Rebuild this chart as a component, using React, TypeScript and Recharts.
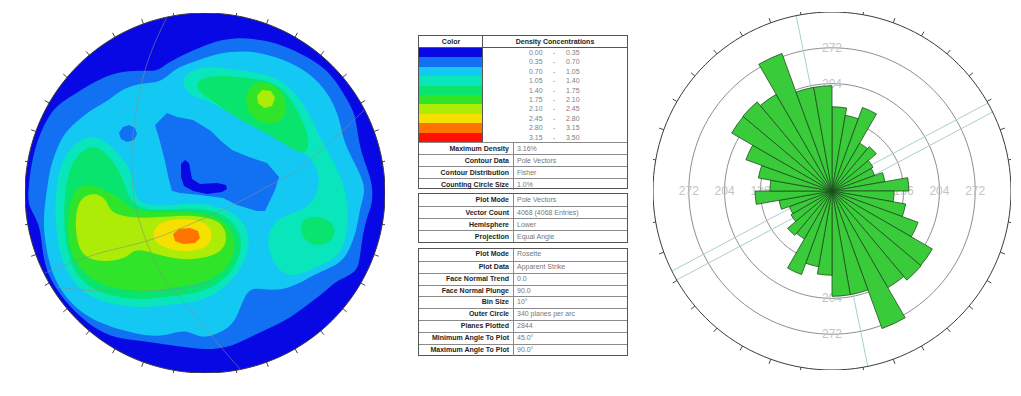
import React from 'react';
import {
  ScatterChart,
  Scatter,
  XAxis,
  YAxis,
  RadialBarChart,
  RadialBar,
  PolarAngleAxis,
  PolarRadiusAxis,
} from 'recharts';

// ---------- density classes (percent of poles per 1% area) ----------
const densityBreaks = ['0.00', '0.35', '0.70', '1.05', '1.40', '1.75', '2.10', '2.45', '2.80', '3.15', '3.50'];
const densityColors = ['#0808e4', '#1270f2', '#14c8f4', '#0ae6bc', '#08e46e', '#30e42a', '#acec06', '#f6e000', '#ff7400', '#ff1000'];

// ---------- contour outlines, stereonet units (primitive radius 180, +y = north) ----------
type Pt = [number, number];

const contourBlueOuter: Pt[] = [
  [-177, 3], [-172, 43], [-155, 83], [-135, 96], [-108, 113], [-88, 121], [-65, 123], [-48, 121], [-38, 130],
  [-18, 140], [5, 150], [28, 156], [62, 153], [82, 146], [105, 135], [122, 123], [135, 106], [148, 83], [151, 73],
  [155, 43], [163, 23], [168, 5], [167, -12], [162, -24], [158, -40], [155, -64], [152, -80], [132, -87], [122, -97],
  [105, -110], [78, -130], [52, -140], [28, -154], [0, -157], [-22, -154], [-48, -150], [-72, -147], [-95, -144],
  [-118, -130], [-135, -114], [-148, -97], [-158, -80], [-163, -57], [-165, -30], [-177, -14],
];

const contourCyanOuter: Pt[] = [
  [-158, 3], [-155, 26], [-145, 53], [-135, 66], [-115, 83], [-95, 93], [-85, 103], [-65, 110], [-48, 110],
  [-38, 116], [-28, 126], [-5, 133], [12, 140], [45, 143], [72, 136], [95, 126], [112, 113], [122, 100], [128, 90],
  [135, 73], [138, 53], [148, 33], [158, 13], [160, 0], [155, -14], [152, -37], [142, -64], [128, -74], [112, -80],
  [95, -90], [78, -97], [62, -97], [45, -94], [38, -107], [32, -124], [25, -134], [10, -142], [-5, -145], [-18, -137],
  [-32, -140], [-48, -144], [-72, -140], [-95, -134], [-118, -124], [-138, -107], [-152, -84], [-158, -60],
  [-162, -34], [-160, -10],
];

const contourAquaNorthEast: Pt[] = [
  [-25, 113], [-13, 123], [5, 127], [30, 123], [57, 120], [77, 113], [92, 98], [105, 78], [115, 55], [128, 33],
  [138, 11], [143, -12], [143, -37], [137, -59], [123, -69], [105, -77], [87, -85], [73, -77], [65, -62], [62, -47],
  [67, -32], [80, -22], [100, -17], [113, -2], [115, 18], [107, 35], [93, 43], [75, 53], [57, 63], [40, 71], [23, 81],
  [3, 93], [-15, 96],
];
const contourGreenNorthEast: Pt[] = [
  [-10, 113], [10, 118], [35, 116], [60, 113], [78, 105], [90, 88], [100, 68], [105, 48], [100, 38], [85, 45],
  [65, 58], [45, 68], [27, 78], [7, 93], [-7, 101],
];
const contourBrightNorthEast: Pt[] = [
  [42, 103], [50, 111], [65, 111], [78, 101], [83, 85], [77, 71], [63, 68], [47, 75], [40, 88],
];
const contourLimeNorthEast: Pt[] = [
  [52, 97], [57, 103], [66, 102], [70, 95], [67, 87], [59, 85], [53, 90],
];
const contourGreenEast: Pt[] = [
  [97, -27], [105, -24], [118, -24], [128, -30], [131, -40], [125, -50], [112, -53], [100, -48], [95, -38],
];

const contourAquaSouthWest: Pt[] = [
  [-150, -7], [-147, 18], [-140, 38], [-127, 53], [-110, 58], [-95, 48], [-83, 35], [-73, 21], [-70, -2], [-63, -12],
  [-40, -13], [-15, -10], [7, -12], [27, -18], [42, -33], [45, -52], [38, -72], [25, -90], [7, -104], [-15, -110],
  [-40, -112], [-65, -115], [-90, -112], [-113, -105], [-130, -92], [-142, -72], [-149, -42],
];
const contourGreenSouthWest: Pt[] = [
  [-141, -7], [-138, 15], [-132, 33], [-120, 45], [-108, 47], [-97, 38], [-87, 25], [-80, 8], [-75, -7], [-65, -16],
  [-40, -17], [-15, -15], [7, -17], [25, -25], [35, -39], [37, -55], [31, -72], [19, -87], [2, -97], [-18, -102],
  [-42, -104], [-65, -107], [-88, -104], [-109, -98], [-125, -87], [-135, -69], [-141, -42],
];
const contourBrightSouthWest: Pt[] = [
  [-137, -22], [-133, -2], [-125, 8], [-110, 8], [-97, 1], [-85, -4], [-75, -17], [-55, -19], [-30, -19], [-5, -19],
  [15, -25], [28, -39], [31, -55], [25, -72], [10, -85], [-10, -92], [-35, -95], [-57, -99], [-80, -97], [-103, -92],
  [-120, -82], [-132, -65], [-137, -45],
];
const contourLimeSouthWest: Pt[] = [
  [-130, -32], [-128, -12], [-120, -2], [-108, 0], [-98, -7], [-95, -19], [-80, -24], [-60, -25], [-40, -24],
  [-20, -22], [0, -24], [17, -29], [23, -45], [17, -59], [0, -65], [-20, -67], [-40, -64], [-60, -57], [-72, -57],
  [-78, -65], [-97, -69], [-117, -67], [-127, -55],
];
const contourYellowPeak: Pt[] = [
  [-53, -39], [-45, -29], [-30, -26], [-10, -26], [5, -32], [8, -44], [2, -55], [-15, -59], [-35, -57], [-50, -50],
];
const contourOrangePeak: Pt[] = [
  [-32, -41], [-26, -36], [-15, -35], [-7, -38], [-5, -45], [-10, -50], [-22, -51], [-30, -48],
];

// low-density pockets inside the cyan zone
const pocketBlueCentre: Pt[] = [
  [-50, 68], [-38, 80], [-28, 76], [-12, 73], [6, 62], [16, 52], [27, 43], [44, 36], [62, 30], [74, 16], [70, 3],
  [60, -18], [52, -18], [32, -12], [18, -5], [-5, -2], [-25, 0], [-33, 2], [-36, 13], [-41, 36], [-46, 55],
];
const pocketDarkCentre: Pt[] = [
  [-24, 29], [-20, 33], [-16, 30], [-13, 14], [-5, 9], [12, 10], [21, 8], [22, 4], [17, 1], [2, -1], [-12, 2],
  [-21, 7], [-24, 16],
];
const pocketBlueWest: Pt[] = [
  [-86, 60], [-82, 66], [-76, 68], [-70, 65], [-68, 59], [-71, 53], [-78, 51], [-84, 54],
];

// painting order: class index + outline
const contourLayers: { level: number; outline: Pt[] }[] = [
  { level: 1, outline: contourBlueOuter },
  { level: 2, outline: contourCyanOuter },
  { level: 3, outline: contourAquaNorthEast },
  { level: 3, outline: contourAquaSouthWest },
  { level: 4, outline: contourGreenNorthEast },
  { level: 4, outline: contourGreenEast },
  { level: 4, outline: contourGreenSouthWest },
  { level: 5, outline: contourBrightNorthEast },
  { level: 5, outline: contourBrightSouthWest },
  { level: 6, outline: contourLimeSouthWest },
  { level: 7, outline: contourYellowPeak },
];
// small or angular patches, painted last
const pocketLayers: { level: number; outline: Pt[] }[] = [
  { level: 6, outline: contourLimeNorthEast },
  { level: 8, outline: contourOrangePeak },
  { level: 1, outline: pocketBlueCentre },
  { level: 0, outline: pocketDarkCentre },
  { level: 1, outline: pocketBlueWest },
];

// faint great-circle traces
const greatCircleA: Pt[] = [
  [-38, 176], [-55, 138], [-67, 93], [-73, 43], [-72, 3], [-65, -30], [-52, -64], [-35, -94], [-12, -120], [10, -147], [35, -176],
];
const greatCircleB: Pt[] = [
  [-160, -80], [-105, -60], [-55, -47], [-5, -27], [28, -12], [75, 13], [105, 33], [152, 76], [158, 82],
];
const greatCircleC: Pt[] = [[-148, -94], [-105, -98], [-38, -97], [5, -89]];
const greatCircles = [greatCircleA, greatCircleB, greatCircleC];

// ---------- rosette: apparent strike, 10 degree bins ----------
const roseBins = ['0', '10', '20', '30', '40', '50', '60', '70', '80', '90', '100', '110', '120', '130', '140', '150', '160', '170',
  '180', '190', '200', '210', '220', '230', '240', '250', '260', '270', '280', '290', '300', '310', '320', '330', '340', '350'];
const roseCounts = [160, 146, 169, 105, 110, 90, 86, 102, 146, 118, 142, 174, 220, 221, 212, 278, 200, 200,
  160, 146, 169, 105, 110, 90, 86, 102, 146, 118, 142, 174, 220, 221, 212, 278, 200, 200];
const roseRings = [68, 136, 204, 272];
const roseOuter = 340;
const roseTraceA: Pt[] = [[-68, 333], [68, -333]];
const roseTraceB: Pt[] = [[-304, -152], [296, 167]];
const roseTraceC: Pt[] = [[-295, -169], [305, 150]];

// ---------- information tables ----------
const contourInfo: [string, string][] = [
  ['Maximum Density', '3.16%'],
  ['Contour Data', 'Pole Vectors'],
  ['Contour Distribution', 'Fisher'],
  ['Counting Circle Size', '1.0%'],
];
const plotInfo: [string, string][] = [
  ['Plot Mode', 'Pole Vectors'],
  ['Vector Count', '4068 (4068 Entries)'],
  ['Hemisphere', 'Lower'],
  ['Projection', 'Equal Angle'],
];
const roseInfo: [string, string][] = [
  ['Plot Mode', 'Rosette'],
  ['Plot Data', 'Apparent Strike'],
  ['Face Normal Trend', '0.0'],
  ['Face Normal Plunge', '90.0'],
  ['Bin Size', '10°'],
  ['Outer Circle', '340 planes per arc'],
  ['Planes Plotted', '2844'],
  ['Minimum Angle To Plot', '45.0°'],
  ['Maximum Angle To Plot', '90.0°'],
];

const tickAzimuths = Array.from({ length: 36 }, (_, i) => i * 10);
const cardinals = [
  { az: 0, label: 'N' },
  { az: 90, label: 'E' },
  { az: 180, label: 'S' },
  { az: 270, label: 'W' },
];

// ---------- helpers ----------
const toPts = (p: Pt[]) => p.map(([x, y]) => ({ x, y }));
const onCircle = (r: number, az: number) => {
  const t = (az * Math.PI) / 180;
  return { x: r * Math.sin(t), y: r * Math.cos(t) };
};
const ring = (r: number, n = 144) => Array.from({ length: n }, (_, i) => onCircle(r, (360 * i) / n));

const NoDot = () => <g />;

const makeTick = (len: number) => (p: any) => {
  const a = (p.payload.az * Math.PI) / 180;
  return (
    <line x1={p.cx} y1={p.cy} x2={p.cx + len * Math.sin(a)} y2={p.cy - len * Math.cos(a)} stroke="#333" strokeWidth={0.9} />
  );
};
// gaps: label distance from the rim for N, E, S, W
const makeCardinal = (len: number, gaps: Record<number, number>) => (p: any) => {
  const a = (p.payload.az * Math.PI) / 180;
  const s = Math.sin(a);
  const c = Math.cos(a);
  const gap = gaps[p.payload.az];
  return (
    <g>
      <line x1={p.cx} y1={p.cy} x2={p.cx + len * s} y2={p.cy - len * c} stroke="#333" strokeWidth={0.9} />
      <text
        x={p.cx + gap * s}
        y={p.cy - gap * c}
        textAnchor="middle"
        dominantBaseline="central"
        fontSize={11}
        fill="#333"
        fontFamily="Liberation Sans, Arial, sans-serif"
      >
        {p.payload.label}
      </text>
    </g>
  );
};
const RingLabel = (p: any) => (
  <text
    x={p.cx}
    y={p.cy}
    textAnchor="middle"
    dominantBaseline="central"
    fontSize={12}
    fill="#c4c4c4"
    fontFamily="Liberation Sans, Arial, sans-serif"
  >
    {p.payload.label}
  </text>
);

// ---------- stereonet ----------
const NET_R = 180;

function Stereonet() {
  const ticks = tickAzimuths.map((az) => ({ ...onCircle(NET_R, az), az }));
  const marks = cardinals.map((c) => ({ ...onCircle(NET_R, c.az), ...c }));
  return (
    <ScatterChart width={410} height={396} margin={{ top: 13, right: 25, bottom: 23, left: 25 }}>
      <XAxis type="number" dataKey="x" domain={[-NET_R, NET_R]} hide allowDataOverflow />
      <YAxis type="number" dataKey="y" domain={[-NET_R, NET_R]} hide allowDataOverflow />
      <Scatter
        data={ring(NET_R)}
        line={{ fill: densityColors[0], stroke: 'none' }}
        lineJointType="linearClosed"
        shape={NoDot}
        isAnimationActive={false}
      />
      {contourLayers.map((layer, i) => (
        <Scatter
          key={`c${i}`}
          data={toPts(layer.outline)}
          line={{ fill: densityColors[layer.level], stroke: 'none' }}
          lineJointType="basisClosed"
          shape={NoDot}
          isAnimationActive={false}
        />
      ))}
      {pocketLayers.map((layer, i) => (
        <Scatter
          key={`p${i}`}
          data={toPts(layer.outline)}
          line={{ fill: densityColors[layer.level], stroke: 'none' }}
          lineJointType="linearClosed"
          shape={NoDot}
          isAnimationActive={false}
        />
      ))}
      {greatCircles.map((g, i) => (
        <Scatter
          key={`g${i}`}
          data={toPts(g)}
          line={{ fill: 'none', stroke: '#8c8c8c', strokeWidth: 0.7, strokeOpacity: 0.8 }}
          lineJointType="natural"
          shape={NoDot}
          isAnimationActive={false}
        />
      ))}
      <Scatter
        data={ring(NET_R)}
        line={{ fill: 'none', stroke: '#3a3a3a', strokeWidth: 1 }}
        lineJointType="linearClosed"
        shape={NoDot}
        isAnimationActive={false}
      />
      <Scatter data={ticks} shape={makeTick(5)} isAnimationActive={false} />
      <Scatter data={marks} shape={makeCardinal(7, { 0: 7.5, 90: 12, 180: 13, 270: 14 })} isAnimationActive={false} />
    </ScatterChart>
  );
}

// ---------- rosette ----------
function RoseFrame() {
  const ticks = tickAzimuths.map((az) => ({ ...onCircle(roseOuter, az), az }));
  const marks = cardinals.map((c) => ({ ...onCircle(roseOuter, c.az), ...c }));
  const ringLabels = roseRings.flatMap((r) =>
    [0, 90, 180, 270].map((az) => ({ ...onCircle(r, az), label: String(r) }))
  );
  return (
    <ScatterChart width={400} height={396} margin={{ top: 12, right: 21, bottom: 26, left: 21 }}>
      <XAxis type="number" dataKey="x" domain={[-roseOuter, roseOuter]} hide allowDataOverflow />
      <YAxis type="number" dataKey="y" domain={[-roseOuter, roseOuter]} hide allowDataOverflow />
      {roseRings.map((r) => (
        <Scatter
          key={`r${r}`}
          data={ring(r)}
          line={{ fill: 'none', stroke: '#8e8e8e', strokeWidth: 1 }}
          lineJointType="linearClosed"
          shape={NoDot}
          isAnimationActive={false}
        />
      ))}
      <Scatter data={ringLabels} shape={RingLabel} isAnimationActive={false} />
      {[roseTraceA, roseTraceB, roseTraceC].map((t, i) => (
        <Scatter
          key={`t${i}`}
          data={toPts(t)}
          line={{ fill: 'none', stroke: '#a6cfcf', strokeWidth: 1 }}
          shape={NoDot}
          isAnimationActive={false}
        />
      ))}
      <Scatter
        data={ring(roseOuter)}
        line={{ fill: 'none', stroke: '#3a3a3a', strokeWidth: 1 }}
        lineJointType="linearClosed"
        shape={NoDot}
        isAnimationActive={false}
      />
      <Scatter data={ticks} shape={makeTick(5)} isAnimationActive={false} />
      <Scatter data={marks} shape={makeCardinal(6, { 0: 6.5, 90: 5.5, 180: 11, 270: 9 })} isAnimationActive={false} />
    </ScatterChart>
  );
}

function RosePetals() {
  const data = roseBins.map((bin, i) => ({ bin, count: roseCounts[i] }));
  // each sector is laid out counter-clockwise from its band start, so the
  // band starts are rotated one bin clockwise to put bin 0 on 0–10°
  return (
    <RadialBarChart
      width={400}
      height={396}
      cx={200}
      cy={191}
      innerRadius={0}
      outerRadius={179}
      startAngle={80}
      endAngle={-280}
      data={data}
      layout="centric"
      barCategoryGap={0}
      barGap={0}
      margin={{ top: 0, right: 0, bottom: 0, left: 0 }}
    >
      <PolarAngleAxis type="category" dataKey="bin" tick={false} tickLine={false} axisLine={false} />
      <PolarRadiusAxis type="number" domain={[0, roseOuter]} tick={false} tickLine={false} axisLine={false} />
      <RadialBar dataKey="count" fill="#3acb3a" stroke="#1e4e1e" strokeWidth={0.8} isAnimationActive={false} />
    </RadialBarChart>
  );
}

// ---------- tables ----------
const TBL_LEFT = 418;
const TBL_W = 210;
const KEY_W = 94;
const FONT = '"Liberation Sans", Arial, sans-serif';

function InfoRows({ rows, rowH, top }: { rows: [string, string][]; rowH: number; top: number }) {
  return (
    <>
      {rows.map(([k, v], i) => (
        <div
          key={k + i}
          style={{
            position: 'absolute',
            left: 0,
            top: top + i * rowH,
            width: TBL_W - 2,
            height: rowH,
            borderTop: i === 0 && top === 0 ? 'none' : '1px solid #8a8a8a',
            boxSizing: 'border-box',
            lineHeight: `${rowH - 1}px`,
            fontSize: 7,
          }}
        >
          <div style={{ position: 'absolute', left: 0, width: KEY_W - 4, textAlign: 'right', fontWeight: 'bold', color: '#1e1e1e' }}>
            {k}
          </div>
          <div style={{ position: 'absolute', left: KEY_W, top: 0, bottom: 0, borderLeft: '1px solid #8a8a8a' }} />
          <div style={{ position: 'absolute', left: KEY_W + 4, color: '#777', whiteSpace: 'nowrap' }}>{v}</div>
        </div>
      ))}
    </>
  );
}

function InfoPanel() {
  const box = (top: number, h: number): React.CSSProperties => ({
    position: 'absolute',
    left: TBL_LEFT,
    top,
    width: TBL_W,
    height: h,
    border: '1px solid #555',
    boxSizing: 'border-box',
    fontFamily: FONT,
    background: '#fff',
  });
  const swatchH = 9.4;
  const legendTop = 12;
  const legendH = swatchH * 10;
  return (
    <>
      <div style={box(35, 154)}>
        <div
          style={{
            position: 'absolute', left: 0, top: 0, width: 64, height: 11, lineHeight: '11px',
            textAlign: 'center', fontSize: 7, fontWeight: 'bold', color: '#1e1e1e',
          }}
        >
          Color
        </div>
        <div
          style={{
            position: 'absolute', left: 64, top: 0, right: 0, height: 11, lineHeight: '11px',
            textAlign: 'center', fontSize: 7, fontWeight: 'bold', color: '#1e1e1e',
          }}
        >
          Density Concentrations
        </div>
        <div style={{ position: 'absolute', left: 0, right: 0, top: 11, borderTop: '1px solid #555' }} />
        <div style={{ position: 'absolute', left: 63, top: 0, height: legendTop + legendH, borderLeft: '1px solid #555' }} />
        {densityColors.map((c, i) => (
          <React.Fragment key={c}>
            <div
              style={{
                position: 'absolute', left: 0, top: legendTop + i * swatchH, width: 63,
                height: swatchH + 0.4, background: c,
              }}
            />
            <div
              style={{
                position: 'absolute', left: 64, top: legendTop + i * swatchH, height: swatchH,
                lineHeight: `${swatchH}px`, fontSize: 7, color: '#808080', width: 146,
              }}
            >
              <span style={{ position: 'absolute', left: 46 }}>{densityBreaks[i]}</span>
              <span style={{ position: 'absolute', left: 70 }}>-</span>
              <span style={{ position: 'absolute', left: 83 }}>{densityBreaks[i + 1]}</span>
            </div>
          </React.Fragment>
        ))}
        <InfoRows rows={contourInfo} rowH={12} top={legendTop + legendH} />
      </div>
      <div style={box(193, 50)}>
        <InfoRows rows={plotInfo} rowH={12} top={0} />
      </div>
      <div style={box(248, 108)}>
        <InfoRows rows={roseInfo} rowH={11.85} top={0} />
      </div>
    </>
  );
}

export default function App() {
  return (
    <div
      style={{
        position: 'absolute', left: 0, top: 0, width: 1021, height: 396, overflow: 'hidden',
        background: '#fff', fontFamily: FONT,
      }}
    >
      <div style={{ position: 'absolute', left: 0, top: 0 }}>
        <Stereonet />
      </div>
      <InfoPanel />
      <div style={{ position: 'absolute', left: 632, top: 0 }}>
        <RoseFrame />
      </div>
      <div style={{ position: 'absolute', left: 632, top: 0 }}>
        <RosePetals />
      </div>
    </div>
  );
}
